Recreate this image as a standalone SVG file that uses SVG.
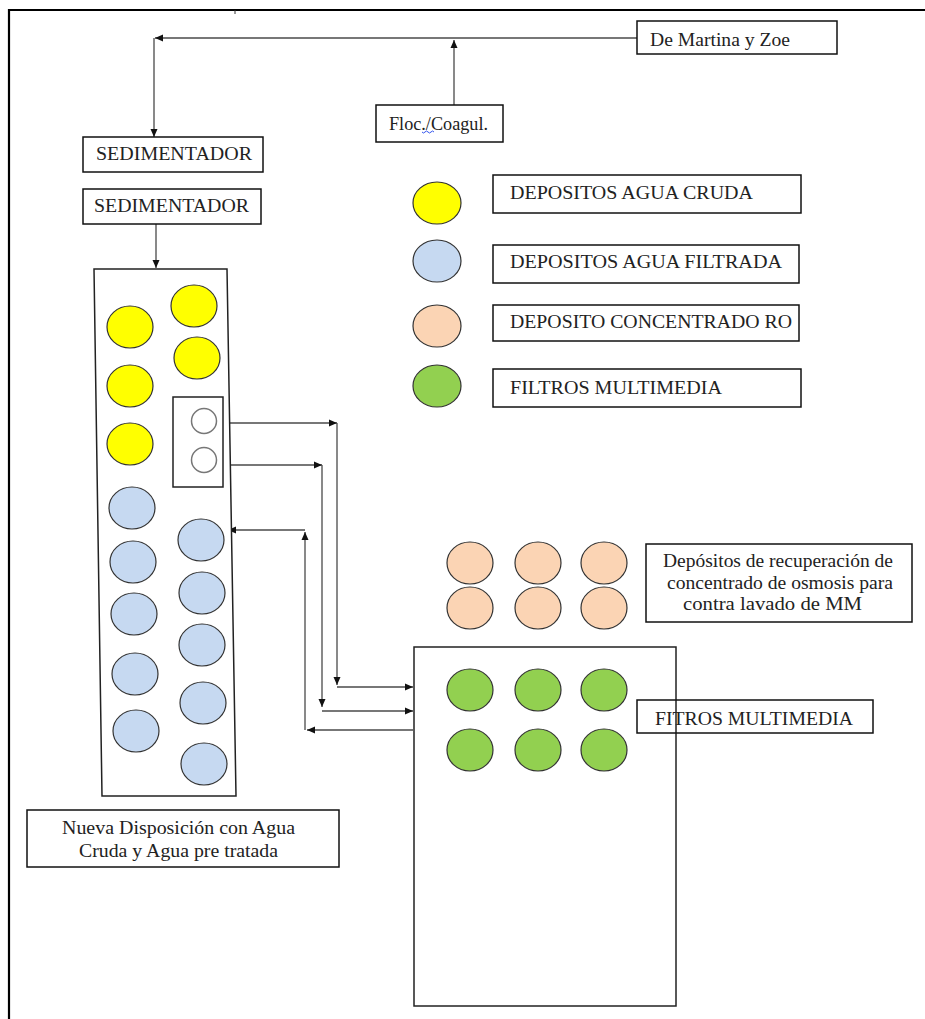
<svg xmlns="http://www.w3.org/2000/svg" width="925" height="1019" viewBox="0 0 925 1019">
<style>
.box{fill:#fff;stroke:#111;stroke-width:1.5}
.t{font-family:"Liberation Serif","Times New Roman",serif;font-size:18px;fill:#222}
.c{stroke:#333;stroke-width:1.2}
.y{fill:#FFFF00}
.b{fill:#C6D9F1}
.p{fill:#FBD4B4}
.g{fill:#92D050}
.w{fill:#fff;stroke:#777;stroke-width:1.5}
.ln{fill:none;stroke:#4a4a4a;stroke-width:1.3;marker-end:url(#ah)}
</style>
<defs>
<marker id="ah" markerUnits="userSpaceOnUse" markerWidth="9" markerHeight="8" refX="8" refY="4" orient="auto">
<path d="M0,0.5 L8,4 L0,7.5 z" fill="#111"/>
</marker>
</defs>
<rect width="925" height="1019" fill="#fff"/>
<g id="frame">
<path d="M9,1019 V10 H925" fill="none" stroke="#000" stroke-width="2.2"/>
<line x1="235" y1="10" x2="235" y2="14" stroke="#333" stroke-width="1"/>
</g>
<g id="connectors">
<path class="ln" d="M637,38 H155"/>
<path class="ln" d="M154,38 V137"/>
<path class="ln" d="M454,105 V40"/>
<path class="ln" d="M156,224 V268"/>
<path class="ln" d="M217,423 H337"/>
<path class="ln" d="M337,423 V685"/>
<path class="ln" d="M337,687 H413"/>
<path class="ln" d="M217,465 H322"/>
<path class="ln" d="M322,465 V707"/>
<path class="ln" d="M322,711 H413"/>
<path class="ln" d="M413,730 H307"/>
<path class="ln" d="M305,730 V532"/>
<path class="ln" d="M305,530 H228"/>
</g>
<g id="de-martina">
<rect class="box" x="637" y="21" width="200" height="33"/>
<text class="t" x="650" y="46" textLength="140" lengthAdjust="spacingAndGlyphs">De Martina y Zoe</text>
</g>
<g id="floc">
<rect class="box" x="376" y="105" width="127" height="37"/>
<text class="t" x="389" y="130" textLength="99" lengthAdjust="spacingAndGlyphs">Floc./Coagul.</text>
<path d="M422,132 q1.5,2 3,0 t3,0 t3,0 t3,0" fill="none" stroke="#3355ee" stroke-width="1"/>
</g>
<g id="sedimentador-1">
<rect class="box" x="83" y="137" width="180" height="35"/>
<text class="t" x="96" y="160" textLength="156" lengthAdjust="spacingAndGlyphs">SEDIMENTADOR</text>
</g>
<g id="sedimentador-2">
<rect class="box" x="83" y="189" width="178" height="35"/>
<text class="t" x="94" y="212" textLength="155" lengthAdjust="spacingAndGlyphs">SEDIMENTADOR</text>
</g>
<g id="main-tank-area">
<polygon points="94,269 227,269 236,796 102,796" fill="#fff" stroke="#222" stroke-width="1.5"/>
<ellipse class="c y" cx="130" cy="327" rx="23" ry="21"/>
<ellipse class="c y" cx="130" cy="386" rx="23" ry="21"/>
<ellipse class="c y" cx="130" cy="444" rx="23" ry="21"/>
<ellipse class="c y" cx="194" cy="306" rx="23" ry="21"/>
<ellipse class="c y" cx="197" cy="358" rx="23" ry="21"/>
<ellipse class="c b" cx="132" cy="508" rx="23" ry="21"/>
<ellipse class="c b" cx="133" cy="562" rx="23" ry="21"/>
<ellipse class="c b" cx="134" cy="614" rx="23" ry="21"/>
<ellipse class="c b" cx="135" cy="674" rx="23" ry="21"/>
<ellipse class="c b" cx="136" cy="731" rx="23" ry="21"/>
<ellipse class="c b" cx="201" cy="540" rx="23" ry="21"/>
<ellipse class="c b" cx="202" cy="593" rx="23" ry="21"/>
<ellipse class="c b" cx="202" cy="645" rx="23" ry="21"/>
<ellipse class="c b" cx="203" cy="703" rx="23" ry="21"/>
<ellipse class="c b" cx="204" cy="764" rx="23" ry="21"/>
</g>
<g id="small-box">
<rect x="173" y="397" width="50" height="90" fill="none" stroke="#222" stroke-width="1.5"/>
<circle class="w" cx="204" cy="421" r="12.5"/>
<circle class="w" cx="204" cy="460" r="12.5"/>
</g>
<g id="legend-cruda">
<ellipse class="c y" cx="437" cy="203" rx="24" ry="21"/>
<rect class="box" x="493" y="175" width="308" height="38"/>
<text class="t" x="510" y="199" textLength="243" lengthAdjust="spacingAndGlyphs">DEPOSITOS AGUA CRUDA</text>
</g>
<g id="legend-filtrada">
<ellipse class="c b" cx="437" cy="261" rx="24" ry="21"/>
<rect class="box" x="493" y="245" width="306" height="38"/>
<text class="t" x="510" y="268" textLength="272" lengthAdjust="spacingAndGlyphs">DEPOSITOS AGUA FILTRADA</text>
</g>
<g id="legend-concentrado">
<ellipse class="c p" cx="437" cy="326" rx="24" ry="21"/>
<rect class="box" x="493" y="305" width="306" height="36"/>
<text class="t" x="510" y="328" textLength="282" lengthAdjust="spacingAndGlyphs">DEPOSITO CONCENTRADO RO</text>
</g>
<g id="legend-multimedia">
<ellipse class="c g" cx="437" cy="386" rx="24" ry="21"/>
<rect class="box" x="493" y="369" width="308" height="38"/>
<text class="t" x="510" y="394" textLength="212" lengthAdjust="spacingAndGlyphs">FILTROS MULTIMEDIA</text>
</g>
<g id="recuperacion-deposits">
<ellipse class="c p" cx="470" cy="563" rx="23" ry="21"/>
<ellipse class="c p" cx="538" cy="563" rx="23" ry="21"/>
<ellipse class="c p" cx="604" cy="563" rx="23" ry="21"/>
<ellipse class="c p" cx="470" cy="608" rx="23" ry="21"/>
<ellipse class="c p" cx="538" cy="608" rx="23" ry="21"/>
<ellipse class="c p" cx="604" cy="608" rx="23" ry="21"/>
</g>
<g id="recuperacion-label">
<rect class="box" x="646" y="544" width="266" height="78"/>
<text class="t" x="663" y="567" textLength="230" lengthAdjust="spacingAndGlyphs">Depósitos de recuperación de</text>
<text class="t" x="667" y="589" textLength="226" lengthAdjust="spacingAndGlyphs">concentrado de osmosis para</text>
<text class="t" x="683" y="610" textLength="179" lengthAdjust="spacingAndGlyphs">contra lavado de MM</text>
</g>
<g id="multimedia-filters">
<rect x="414" y="647" width="262" height="359" fill="none" stroke="#222" stroke-width="1.5"/>
<ellipse class="c g" cx="470" cy="690" rx="23" ry="21"/>
<ellipse class="c g" cx="538" cy="690" rx="23" ry="21"/>
<ellipse class="c g" cx="604" cy="690" rx="23" ry="21"/>
<ellipse class="c g" cx="470" cy="750" rx="23" ry="21"/>
<ellipse class="c g" cx="538" cy="750" rx="23" ry="21"/>
<ellipse class="c g" cx="604" cy="750" rx="23" ry="21"/>
</g>
<g id="fitros-label">
<rect x="637" y="700" width="236" height="33" fill="none" stroke="#111" stroke-width="1.5"/>
<text class="t" x="655" y="725" textLength="198" lengthAdjust="spacingAndGlyphs">FITROS MULTIMEDIA</text>
</g>
<g id="nueva-disposicion">
<rect class="box" x="27" y="810" width="312" height="57"/>
<text class="t" x="62" y="834" textLength="233" lengthAdjust="spacingAndGlyphs">Nueva Disposición con Agua</text>
<text class="t" x="79" y="857" textLength="199" lengthAdjust="spacingAndGlyphs">Cruda y Agua pre tratada</text>
</g>
</svg>
